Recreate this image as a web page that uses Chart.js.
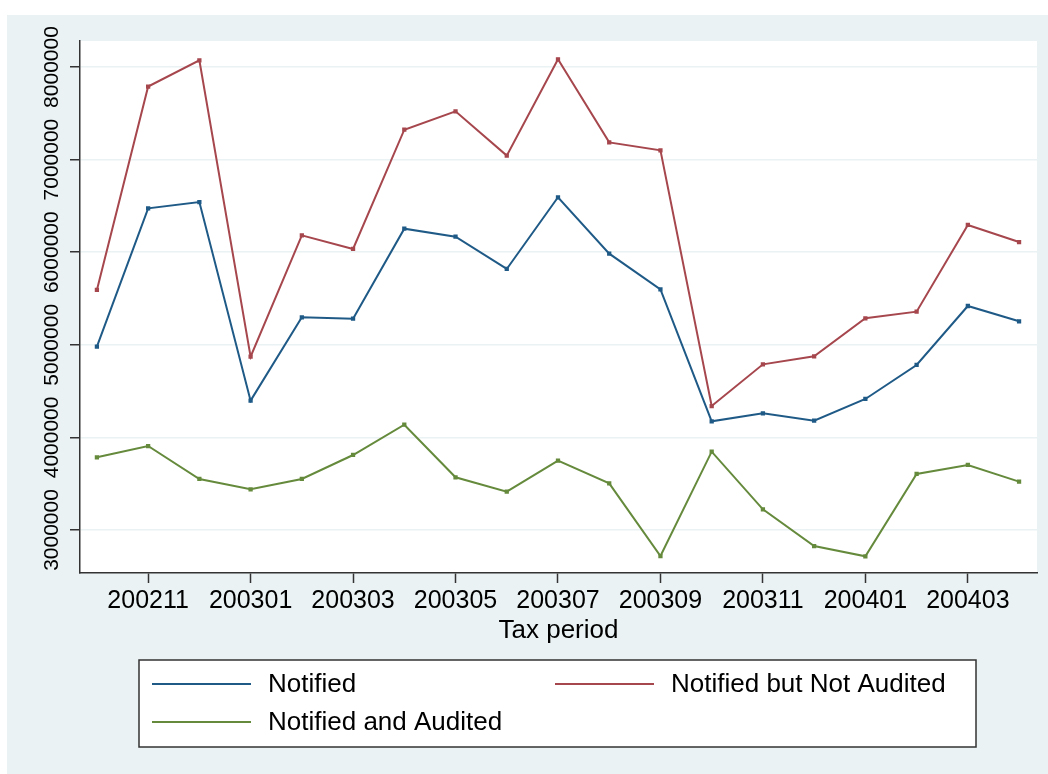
<!DOCTYPE html>
<html>
<head>
<meta charset="utf-8">
<script src="https://cdn.jsdelivr.net/npm/chart.js@4"></script>
<style>
  html, body { margin: 0; padding: 0; background: #ffffff; }
  #grafico { display: block; }
</style>
</head>
<body>
<canvas id="grafico" width="1048" height="774"></canvas>
<script>
// Datos
const periods = ["200210", "200211", "200212", "200301", "200302", "200303", "200304", "200305", "200306",
    "200307", "200308", "200309", "200310", "200311", "200312", "200401", "200402", "200403", "200404"];
const xTickLabels = ["200211", "200301", "200303", "200305", "200307", "200309", "200311", "200401", "200403"];
const yTicks = [3000000, 4000000, 5000000, 6000000, 7000000, 8000000];

const notified = [4980000, 6474000, 6542000, 4397000, 5297000, 5282000, 6254000, 6168000, 5819000,
    6593000, 5984000, 5599000, 4174000, 4260000, 4181000, 4415000, 4782000, 5419000, 5254000];
const notAudited = [5592000, 7789000, 8072000, 4872000, 6182000, 6035000, 7323000, 7521000, 7043000,
    8083000, 7186000, 7100000, 4339000, 4789000, 4876000, 5286000, 5358000, 6294000, 6110000];
const audited = [3785000, 3907000, 3551000, 3439000, 3551000, 3810000, 4137000, 3569000, 3414000,
    3749000, 3504000, 2719000, 3846000, 3223000, 2827000, 2716000, 3605000, 3702000, 3522000];

const FONT = "'Liberation Sans', Arial, Helvetica, sans-serif";
const BG = "#eaf2f3";
const AXIS = "#333333";

function serie(label, valores, color) {
    return {
        label: label,
        data: valores.map((v, i) => ({ x: i, y: v })),
        borderColor: color,
        backgroundColor: color,
        borderWidth: 2,
        pointStyle: 'rect',
        pointRadius: 1.6,
        pointHoverRadius: 1.6,
        tension: 0
    };
}

// Fondo tipo Stata
const fondo = {
    id: 'fondo',
    beforeDraw(chart) {
        const { ctx, chartArea: a } = chart;
        ctx.save();
        ctx.fillStyle = "#ffffff";
        ctx.fillRect(0, 0, chart.width, chart.height);
        ctx.fillStyle = BG;
        ctx.fillRect(7, 15, chart.width - 7, chart.height - 15);
        ctx.fillStyle = "#ffffff";
        ctx.fillRect(a.left, a.top, a.right - a.left, a.bottom - a.top);
        ctx.restore();
    }
};

// Etiquetas del eje Y giradas
const etiquetasY = {
    id: 'etiquetasY',
    afterDraw(chart) {
        const { ctx } = chart;
        const y = chart.scales.y;
        ctx.save();
        ctx.fillStyle = "#000000";
        ctx.font = "21px " + FONT;
        ctx.textAlign = "center";
        ctx.textBaseline = "middle";
        yTicks.forEach(v => {
            ctx.save();
            ctx.translate(52.5, y.getPixelForValue(v));
            ctx.rotate(-Math.PI / 2);
            ctx.fillText(String(v), 0, 0);
            ctx.restore();
        });
        ctx.restore();
    }
};

// Leyenda con recuadro, dos columnas
const leyenda = {
    id: 'leyenda',
    afterDraw(chart) {
        const { ctx } = chart;
        const box = { x: 139, y: 660, w: 837, h: 87 };
        const filas = [684, 722];
        const columnas = [152, 555];
        ctx.save();
        ctx.fillStyle = "#ffffff";
        ctx.fillRect(box.x, box.y, box.w, box.h);
        ctx.strokeStyle = AXIS;
        ctx.lineWidth = 1.5;
        ctx.strokeRect(box.x, box.y, box.w, box.h);
        ctx.font = "26px " + FONT;
        ctx.textBaseline = "middle";
        ctx.textAlign = "left";
        chart.data.datasets.forEach((ds, i) => {
            const cx = columnas[i % 2];
            const cy = filas[Math.floor(i / 2)];
            ctx.strokeStyle = ds.borderColor;
            ctx.lineWidth = 2;
            ctx.beginPath();
            ctx.moveTo(cx, cy);
            ctx.lineTo(cx + 99, cy);
            ctx.stroke();
            ctx.fillStyle = "#000000";
            ctx.fillText(ds.label, cx + 116, cy + 1);
        });
        ctx.restore();
    }
};

new Chart(document.getElementById("grafico"), {
    type: 'line',
    data: {
        datasets: [
            serie("Notified", notified, "#1f5a87"),
            serie("Notified but Not Audited", notAudited, "#a6464d"),
            serie("Notified and Audited", audited, "#658a3c")
        ]
    },
    options: {
        responsive: false,
        animation: false,
        devicePixelRatio: 1,
        layout: { padding: { left: 0, top: 41, right: 11, bottom: 128 } },
        plugins: {
            legend: { display: false },
            tooltip: { enabled: false }
        },
        scales: {
            x: {
                type: 'linear',
                min: -0.33,
                max: 18.35,
                afterBuildTicks: (scale) => {
                    scale.ticks = xTickLabels.map(l => ({ value: periods.indexOf(l) }));
                },
                afterFit: (scale) => { scale.height = 73; },
                ticks: {
                    callback: (v) => periods[v],
                    font: { family: FONT, size: 25 },
                    color: "#000000",
                    padding: 3,
                    maxRotation: 0,
                    autoSkip: false
                },
                grid: {
                    drawOnChartArea: false,
                    drawTicks: true,
                    tickLength: 10,
                    tickColor: AXIS,
                    tickWidth: 1.5
                },
                border: { color: AXIS, width: 1.5 },
                title: {
                    display: true,
                    text: "Tax period",
                    color: "#000000",
                    font: { family: FONT, size: 26 },
                    padding: { top: 0, bottom: 0 }
                }
            },
            y: {
                min: 2535600,
                max: 8280800,
                afterBuildTicks: (scale) => {
                    scale.ticks = yTicks.map(v => ({ value: v }));
                },
                afterFit: (scale) => { scale.width = 80; },
                ticks: { display: false },
                grid: {
                    color: BG,
                    lineWidth: 1.5,
                    drawTicks: true,
                    tickLength: 10,
                    tickColor: AXIS,
                    tickWidth: 1.5
                },
                border: { color: AXIS, width: 1.5 }
            }
        }
    },
    plugins: [fondo, etiquetasY, leyenda]
});
</script>
</body>
</html>
